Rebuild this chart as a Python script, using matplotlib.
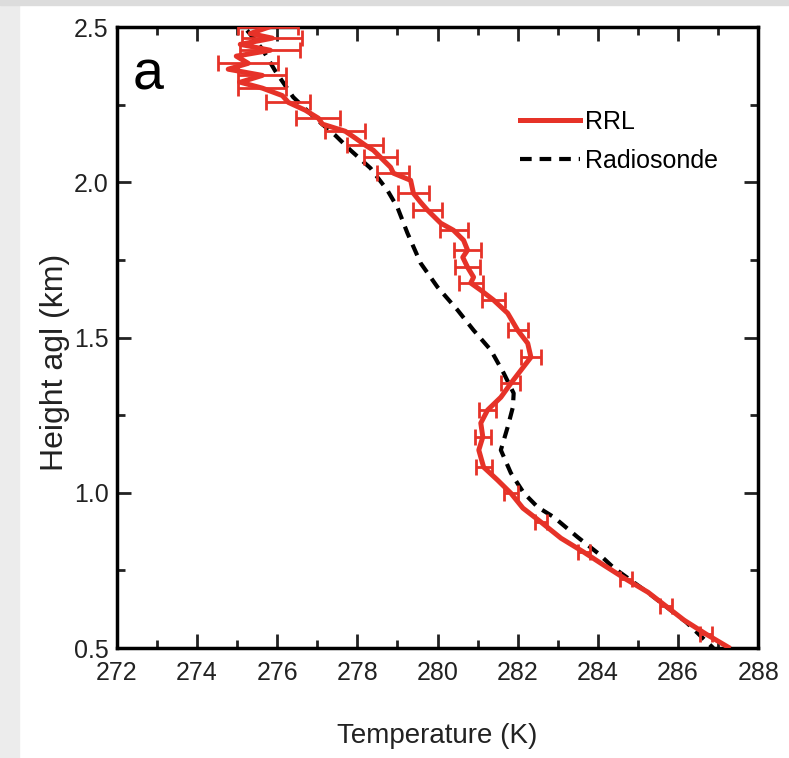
import matplotlib.pyplot as plt
from matplotlib.lines import Line2D
from matplotlib.patches import Rectangle
from matplotlib.ticker import MultipleLocator

# RRL temperature profile (K) vs height agl (km)
rrl_temp = [
    275.78, 275.33, 275.88, 275.08, 275.83, 274.98, 275.28, 274.78, 275.63,
    275.08, 275.63, 276.13, 276.28, 276.70, 277.03, 277.13, 277.70, 277.95,
    278.20, 278.40, 278.58, 278.83, 278.90, 279.33, 279.40, 279.58, 279.75,
    280.08, 280.40, 280.65, 280.75, 280.63, 280.75, 280.90, 280.83, 281.08,
    281.40, 281.75, 282.00, 282.25, 282.33, 282.08, 281.83, 281.58, 281.25,
    281.08, 281.13, 281.03, 281.15, 281.50, 281.83, 282.13, 282.58, 283.08,
    283.65, 284.15, 284.70, 285.25, 285.70, 286.15, 286.70, 287.25,
]
rrl_height = [
    2.500, 2.480, 2.465, 2.445, 2.426, 2.407, 2.384, 2.365, 2.345,
    2.323, 2.304, 2.280, 2.258, 2.233, 2.207, 2.188, 2.165, 2.143,
    2.120, 2.104, 2.081, 2.049, 2.030, 2.007, 1.965, 1.936, 1.911,
    1.869, 1.846, 1.814, 1.782, 1.759, 1.727, 1.695, 1.676, 1.653,
    1.621, 1.579, 1.524, 1.482, 1.437, 1.395, 1.353, 1.308, 1.267,
    1.225, 1.180, 1.138, 1.083, 1.041, 0.999, 0.951, 0.906, 0.854,
    0.809, 0.767, 0.722, 0.680, 0.635, 0.590, 0.545, 0.503,
]
rrl_err = [
    0.75, 0.70, 0.75, 0.70, 0.75, 0.70, 0.75, 0.65, 0.60,
    0.60, 0.60, 0.55, 0.55, 0.55, 0.55, 0.50, 0.50, 0.45,
    0.45, 0.42, 0.42, 0.40, 0.40, 0.38, 0.38, 0.36, 0.36,
    0.35, 0.35, 0.33, 0.33, 0.33, 0.32, 0.32, 0.30, 0.30,
    0.28, 0.26, 0.25, 0.25, 0.25, 0.24, 0.24, 0.22, 0.22,
    0.22, 0.20, 0.20, 0.20, 0.18, 0.18, 0.16, 0.16, 0.15,
    0.15, 0.15, 0.15, 0.15, 0.14, 0.14, 0.14, 0.14,
]

# Radiosonde profile
sonde_temp = [
    275.25, 275.63, 275.95, 276.40, 276.95, 277.45, 277.83, 278.33, 278.75,
    279.00, 279.25, 279.58, 280.00, 280.50, 280.90, 281.33, 281.65, 281.90,
    281.88, 281.75, 281.58, 281.83, 282.15, 282.50, 282.90, 283.50, 284.00,
    284.40, 285.33, 286.20, 286.88,
]
sonde_height = [
    2.490, 2.430, 2.360, 2.275, 2.207, 2.152, 2.104, 2.046, 1.975,
    1.920, 1.837, 1.740, 1.663, 1.589, 1.524, 1.460, 1.386, 1.321,
    1.276, 1.212, 1.138, 1.064, 1.000, 0.954, 0.922, 0.857, 0.806,
    0.758, 0.671, 0.584, 0.500,
]

plt.rcParams["font.family"] = ["Liberation Sans", "DejaVu Sans"]

fig = plt.figure(figsize=(7.89, 7.58), dpi=100)
fig.patches.append(Rectangle((0, 0), 0.024, 1, transform=fig.transFigure,
                             color="#ececec", zorder=0))
fig.patches.append(Rectangle((0, 0.993), 1, 0.007, transform=fig.transFigure,
                             color="#dcdcdc", zorder=0))

ax = fig.add_axes([0.148, 0.145, 0.813, 0.819])

red = "#e63228"
dash = (0, (2.8, 1.9))
ax.plot(sonde_temp, sonde_height, color="black", lw=3, ls=dash, zorder=2)
ax.errorbar(rrl_temp, rrl_height, xerr=rrl_err, errorevery=2, color=red,
            lw=3.6, elinewidth=2, capsize=6, capthick=2, zorder=3)

ax.set_xlim(272, 288)
ax.set_ylim(0.5, 2.5)
ax.xaxis.set_major_locator(MultipleLocator(2))
ax.xaxis.set_minor_locator(MultipleLocator(1))
ax.yaxis.set_major_locator(MultipleLocator(0.5))
ax.yaxis.set_minor_locator(MultipleLocator(0.25))
ax.tick_params(which="both", direction="in", top=True, right=True,
               labelsize=18, width=2, colors="#222222")
ax.tick_params(which="major", length=10)
ax.tick_params(which="minor", length=6)
ax.tick_params(axis="x", pad=9)
ax.tick_params(axis="y", pad=6)
for s in ax.spines.values():
    s.set_linewidth(2.5)

ax.set_xlabel("Temperature (K)", fontsize=20, labelpad=28, color="#222222")
ax.set_ylabel("Height agl (km)", fontsize=23, color="#222222")
ax.yaxis.set_label_coords(-0.073, 0.46)

ax.text(0.025, 0.965, "a", transform=ax.transAxes, fontsize=40,
        va="top", ha="left")

handles = [
    Line2D([], [], color=red, lw=3.6),
    Line2D([], [], color="black", lw=3, ls=dash),
]
ax.legend(handles, ["RRL", "Radiosonde"], loc="upper left",
          bbox_to_anchor=(0.594, 0.903), frameon=False, fontsize=18,
          handlelength=2.4, handletextpad=0.2, labelspacing=0.6)

fig.savefig("out.png", dpi=100)
